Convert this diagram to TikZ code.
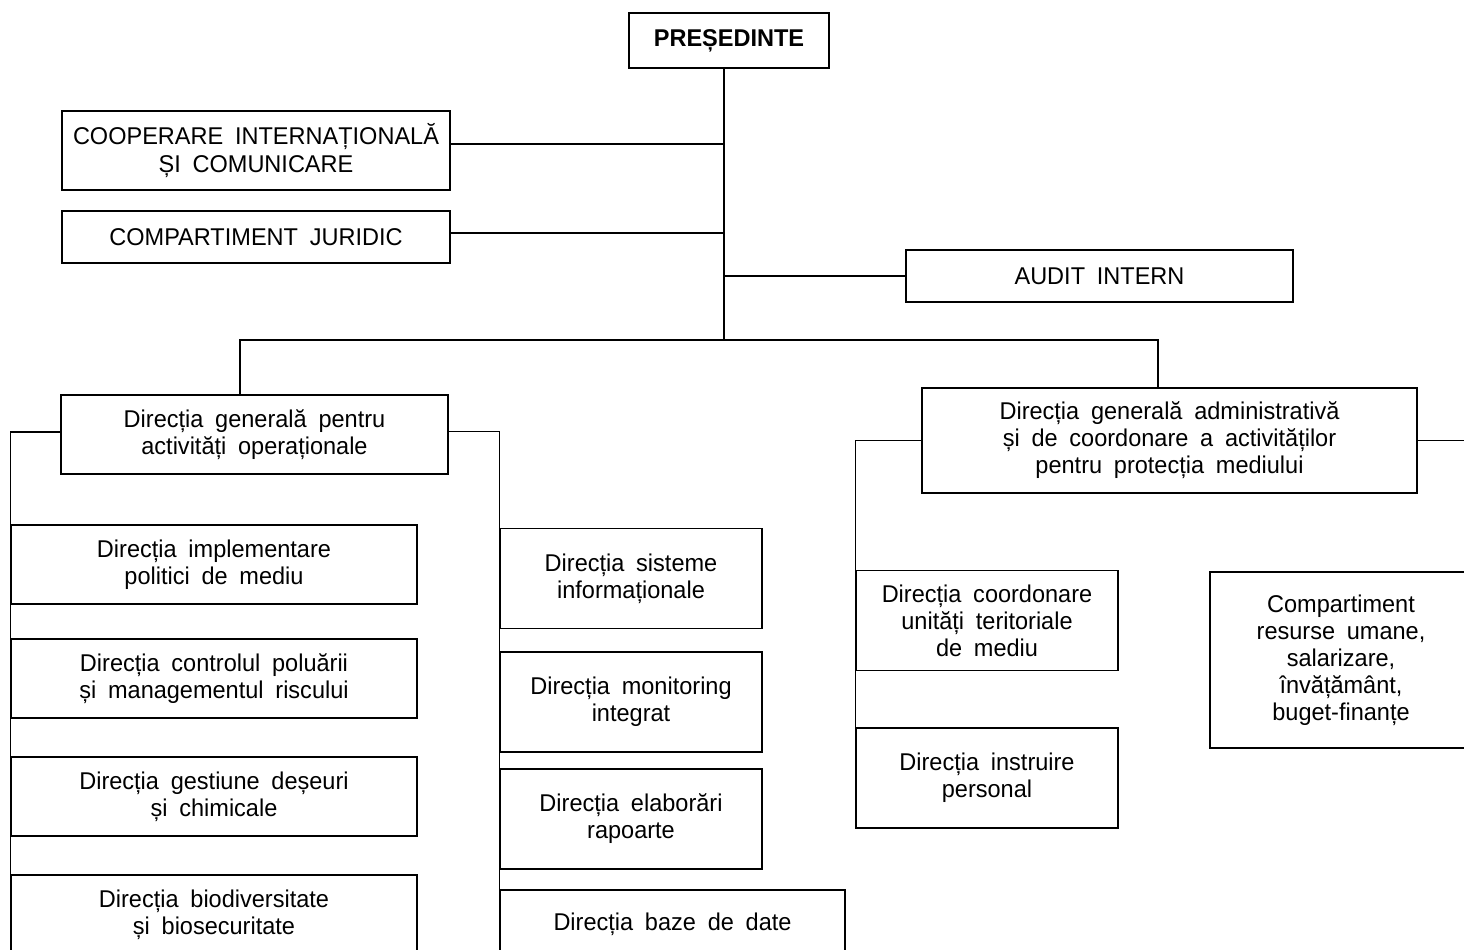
\documentclass[tikz,border=0pt]{standalone}
\usepackage{fontspec}
\setmainfont[WordSpace=1.8,FakeStretch=0.97]{Liberation Sans}
\begin{document}
\begin{tikzpicture}[x=0.2mm,y=-0.2mm,
    box/.style={draw,line width=0.7pt,align=center,inner sep=2pt,
      font=\fontsize{13.8}{15.4}\selectfont},
    wide/.style={minimum width=81.2mm,minimum height=15.8mm},
    narrow/.style={minimum width=52.4mm,minimum height=20mm}]
      \useasboundingbox (0,0) rectangle (1464,949);
      \draw
        (729,40.5) node[box,minimum width=40mm,minimum height=11mm] (pres){\textbf{PREȘEDINTE}}
        (256,150.5) node[box,minimum width=77.6mm,minimum height=15.8mm] (coop){COOPERARE INTERNAȚIONALĂ\\ȘI COMUNICARE}
        (256,237) node[box,minimum width=77.6mm,minimum height=10.4mm] (jur){COMPARTIMENT JURIDIC}
        (1099.5,276) node[box,minimum width=77.4mm,minimum height=10.4mm] (audit){AUDIT INTERN}
        (254.5,434.5) node[box,minimum width=77.4mm,minimum height=15.8mm] (gop){Direcția generală pentru\\activități operaționale}
        (1169.5,440.5) node[box,minimum width=99mm,minimum height=21mm] (gadm){Direcția generală administrativă\\și de coordonare a activităților\\pentru protecția mediului}
        (214,564.5) node[box,wide] (impl){Direcția implementare\\politici de mediu}
        (214,678.5) node[box,wide] (ctrl){Direcția controlul poluării\\și managementul riscului}
        (214,796.5) node[box,wide] (deseu){Direcția gestiune deșeuri\\și chimicale}
        (214,914.5) node[box,wide] (biodiv){Direcția biodiversitate\\și biosecuritate}
        (631,578.5) node[box,narrow] (sist){Direcția sisteme\\informaționale}
        (631,702) node[box,narrow] (monit){Direcția monitoring\\integrat}
        (631,819) node[box,narrow] (elab){Direcția elaborări\\rapoarte}
        (672.5,924) node[box,minimum width=69mm,minimum height=13.6mm] (baze){Direcția baze de date}
        (987,620.5) node[box,narrow] (coord){Direcția coordonare\\unități teritoriale\\de mediu}
        (987,778) node[box,narrow] (instr){Direcția instruire\\personal}
        (1341,660) node[box,minimum width=52.4mm,minimum height=35.2mm] (resum){Compartiment\\resurse umane,\\salarizare,\\învățământ,\\buget-finanțe};
      \coordinate (spine) at (724,340);
      \coordinate (busl) at (240,340);
      \coordinate (busr) at (1158,340);
      \coordinate (offr) at (1490,440.5);
      \begin{scope}[-,line width=0.75pt]
        \draw (pres.south -| spine) to (spine);
        \draw ([yshift=1.3mm]coop.east) to ([yshift=1.3mm]coop.east -| spine);
        \draw ([yshift=0.8mm]jur.east) to ([yshift=0.8mm]jur.east -| spine);
        \draw (audit.west) to (audit.west -| spine);
        \draw (busl |- gop.north) -- (busl) -- (busr) -- (busr |- gadm.north);
        \draw ([yshift=0.5mm]gop.west) -| (biodiv.north west);
        \draw ([yshift=0.6mm]gop.east) -| (baze.north west);
        \draw (gadm.west) -| (instr.north west);
        \draw (gadm.east) to (offr);
      \end{scope}
    \end{tikzpicture}
\end{document}
